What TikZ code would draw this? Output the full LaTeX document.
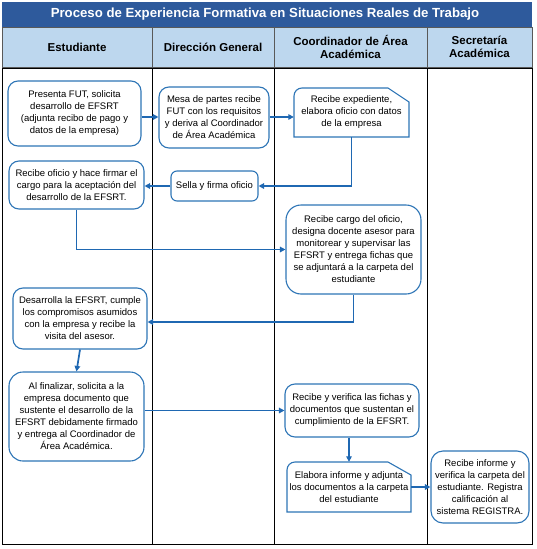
\documentclass[tikz,border=0pt]{standalone}
\usepackage{fontspec}
\setmainfont{Liberation Sans}
\usetikzlibrary{arrows.meta,calc}
\definecolor{titlebg}{RGB}{46,90,156}
\definecolor{headbg}{RGB}{189,215,238}
\definecolor{boxblue}{RGB}{46,117,182}
\definecolor{arrblue}{RGB}{31,104,178}
\tikzset{
  procbox/.style={draw=boxblue, line width=1.1pt, rounded corners=10pt, fill=white,
    align=center, inner sep=0pt, font=\fontsize{9.5}{12}\selectfont},
  cardtext/.style={align=center, inner sep=0pt, font=\fontsize{9.5}{12}\selectfont},
  conn/.style={draw=arrblue, line width=1.7pt, -{Triangle[length=5.5pt,width=5.5pt]}},
  headtxt/.style={font=\fontsize{11.5}{13.5}\selectfont\bfseries, align=center},
  lane/.style={draw=black, line width=0.9pt}
}
\begin{document}
\begin{tikzpicture}[x=1pt,y=-1pt]
\useasboundingbox (0,0) rectangle (537,549);
% title
\fill[titlebg] (2,2) rectangle (532,27);
\node[font=\fontsize{13.2}{15}\selectfont\bfseries, text=white] (title) at (265,14.5) {Proceso de Experiencia Formativa en Situaciones Reales de Trabajo};
% header
\fill[headbg] (2,27) rectangle (532,67);
\draw[draw=gray!70!black, line width=0.6pt] (2,27) rectangle (532,67);
\foreach \x in {152,274,427} \draw[draw=gray!70!black, line width=0.6pt] (\x,27) -- (\x,67);
\node[headtxt] (h1) at (77,47) {Estudiante};
\node[headtxt] (h2) at (213,47) {Dirección General};
\node[headtxt] (h3) at (350.5,47) {Coordinador de Área\\Académica};
\node[headtxt] (h4) at (479.5,47) {Secretaría\\Académica};
% body lanes
\draw[lane] (2,68) rectangle (532,544);
\foreach \x in {152,274,427} \draw[lane] (\x,68) -- (\x,544);
% boxes
\node[procbox, minimum width=133pt, minimum height=65pt] (b1) at (74.5,113.5)
  {Presenta FUT, solicita\\desarrollo de EFSRT\\(adjunta recibo de pago y\\datos de la empresa)};
\node[procbox, minimum width=110pt, minimum height=61pt] (b2) at (214,117.5)
  {Mesa de partes recibe\\FUT con los requisitos\\y deriva al Coordinador\\de Área Académica};
\node[procbox, minimum width=135pt, minimum height=48pt] (b3) at (76.5,185)
  {Recibe oficio y hace firmar el\\cargo para la aceptación del\\desarrollo de la EFSRT.};
\node[procbox, rounded corners=6pt, minimum width=87pt, minimum height=30pt] (b4) at (214.5,186)
  {Sella y firma oficio};
% card 5
\draw[draw=boxblue, line width=1.1pt, fill=white]
  (294,137) -- (294,96) arc[start angle=180, end angle=90, radius=8pt] -- (388,88) -- (409,102) -- (409,137) -- cycle;
\node[cardtext, minimum width=115pt, minimum height=49pt] (b5) at (351.5,112.5)
  {Recibe expediente,\\elabora oficio con datos\\de la empresa};
\node[procbox, rounded corners=15pt, minimum width=135pt, minimum height=89pt] (b6) at (353.5,249.5)
  {Recibe cargo del oficio,\\designa docente asesor para\\monitorear y supervisar las\\EFSRT y entrega fichas que\\se adjuntará a la carpeta del\\estudiante};
\node[procbox, minimum width=134pt, minimum height=61pt] (b7) at (80,318.5)
  {Desarrolla la EFSRT, cumple\\los compromisos asumidos\\con la empresa y recibe la\\visita del asesor.};
\node[procbox, rounded corners=14pt, minimum width=135pt, minimum height=89pt] (b8) at (76.5,416.5)
  {Al finalizar, solicita a la\\empresa documento que\\sustente el desarrollo de la\\EFSRT debidamente firmado\\y entrega al Coordinador de\\Área Académica.};
\node[procbox, minimum width=134pt, minimum height=53pt] (b9) at (352,410.5)
  {Recibe y verifica las fichas y\\documentos que sustentan el\\cumplimiento de la EFSRT.};
% card 10
\draw[draw=boxblue, line width=1.1pt, fill=white]
  (287,512) -- (287,470) arc[start angle=180, end angle=90, radius=8pt] -- (388,462) -- (411,475) -- (411,512) -- cycle;
\node[cardtext, minimum width=124pt, minimum height=50pt] (b10) at (349,487)
  {Elabora informe y adjunta\\los documentos a la carpeta\\del estudiante};
\node[procbox, rounded corners=12pt, minimum width=98pt, minimum height=72pt] (b11) at (480,487)
  {Recibe informe y\\verifica la carpeta del\\estudiante. Registra\\calificación al\\sistema REGISTRA.};
% connectors
\coordinate (c1) at ($(b2.east)+(0,-0.5)$);
\draw[conn] (b1.east |- c1) -- (b2.west |- c1);
\draw[conn] (c1) -- (b5.west |- c1);
\draw[conn] (b5.south) |- (b4.east);
\draw[conn] (b4.west) -- (b3.east |- b4.west);
\draw[conn] (b3.south) |- (b6.west);
\coordinate (c2) at ($(b7.east)+(0,3.5)$);
\draw[conn] (b6.south) |- (c2);
\draw[conn] (b7.south) -- (b8.north);
\draw[conn] (b8.east |- b9.west) -- (b9.west);
\draw[conn] (b9.south -| b10.north) -- (b10.north);
\draw[conn] (b10.east) -- (b11.west);
\end{tikzpicture}
\end{document}
